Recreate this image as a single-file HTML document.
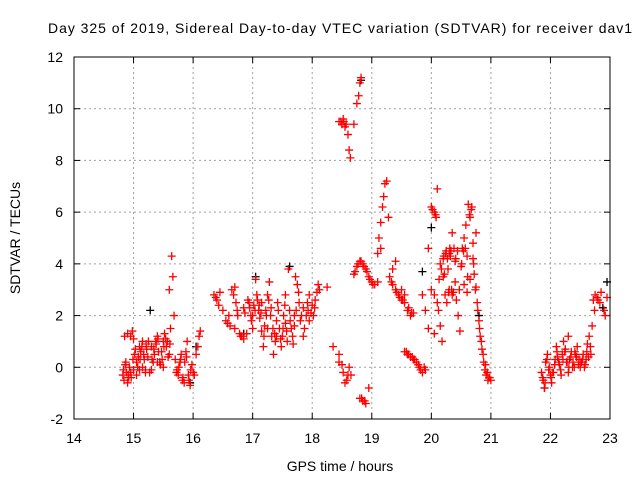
<!DOCTYPE html>
<html><head><meta charset="utf-8"><style>
html,body{margin:0;padding:0;background:#fff;}
svg{display:block;font-family:"Liberation Sans",sans-serif;}
</style></head><body>
<svg id="chart" width="640" height="480" viewBox="0 0 640 480" xmlns="http://www.w3.org/2000/svg">
<rect width="640" height="480" fill="#fff"/>
<text x="340" y="33" font-size="14" text-anchor="middle" textLength="584" fill="#000">Day 325 of 2019, Sidereal Day-to-day VTEC variation (SDTVAR) for receiver dav1</text>
<g id="grid"></g>
<g id="ticks"></g>
<g id="marks"></g>
<rect x="74" y="57" width="536" height="362" fill="none" stroke="#000" stroke-width="1"/>
<text x="340" y="471" font-size="14" text-anchor="middle">GPS time / hours</text>
<text transform="translate(20,238) rotate(-90)" font-size="14" text-anchor="middle">SDTVAR / TECUs</text>
</svg>
<script>
const xTicks=[14,15,16,17,18,19,20,21,22,23];
const yTicks=[-2,0,2,4,6,8,10,12];
const redX=[14.82,14.84,14.86,14.88,14.9,14.92,14.85,14.9,14.95,14.98,15.0,15.02,15.05,15.0,15.05,15.08,15.1,15.12,15.15,15.18,15.2,15.22,15.25,15.3,15.33,15.35,15.38,15.4,15.42,15.45,15.48,15.5,15.52,15.55,15.58,15.6,15.62,15.64,15.66,15.68,15.7,15.72,15.75,15.78,15.8,15.82,15.85,15.88,15.9,15.92,15.95,15.98,16.0,16.02,16.05,16.08,16.1,16.12,15.15,15.2,15.3,15.4,15.6,15.5,14.95,15.1,
14.83,14.87,14.91,14.93,14.96,14.99,15.03,15.07,15.11,15.14,15.17,15.21,15.24,15.27,15.31,15.34,15.37,15.41,15.44,15.47,15.51,15.54,15.57,15.61,15.73,15.76,15.79,15.83,15.86,15.89,15.93,15.96,
16.35,16.4,16.45,16.5,16.55,16.6,16.62,16.65,16.7,16.72,16.75,16.78,16.8,16.85,16.9,16.92,16.95,16.98,17.0,17.02,17.05,17.08,17.1,17.12,17.15,17.18,17.2,17.22,17.25,17.28,17.3,17.32,17.35,17.38,17.4,17.42,17.45,17.48,17.5,17.52,17.55,17.58,17.6,17.62,17.65,17.68,17.7,17.72,17.75,17.78,17.8,17.85,17.9,17.92,17.95,18.0,18.02,18.05,18.08,18.1,18.12,16.85,17.0,17.15,17.25,17.4,17.55,17.7,17.85,16.7,17.95,
16.38,16.43,16.58,16.68,16.74,16.82,16.87,16.94,16.97,17.04,17.07,17.11,17.14,17.19,17.23,17.27,17.31,17.34,17.37,17.43,17.47,17.51,17.54,17.57,17.63,17.67,17.73,17.77,17.82,17.87,17.93,17.98,18.04,
18.45,18.5,18.52,18.55,18.6,18.62,18.64,18.7,18.75,18.78,18.8,18.82,18.45,18.5,18.52,18.55,18.6,18.62,18.65,18.35,18.45,18.25,18.8,18.85,18.9,18.95,18.88,18.48,18.53,18.57,18.58,18.83,
18.7,18.75,18.8,18.85,18.9,18.95,19.0,19.05,19.1,19.1,19.12,19.15,19.18,19.2,19.22,19.25,19.28,19.15,18.72,18.77,18.82,18.87,18.92,18.97,19.02,
19.3,19.35,19.4,19.45,19.5,19.55,19.6,19.65,19.7,19.35,19.4,19.5,19.55,19.55,19.6,19.65,19.7,19.75,19.8,19.85,19.9,19.33,19.42,19.47,19.52,19.62,19.67,19.58,19.62,19.68,19.72,19.78,19.82,19.88,
20.0,20.05,20.08,19.95,20.0,20.05,20.1,20.12,20.15,20.18,19.85,19.9,19.95,20.05,20.1,20.15,20.2,20.22,20.25,20.28,20.3,20.35,20.38,20.4,20.42,20.45,20.48,20.5,20.52,20.55,20.58,20.6,20.62,20.65,20.68,20.7,20.72,20.75,20.78,20.8,20.82,20.85,20.88,20.9,20.92,20.95,20.98,20.75,20.65,20.35,20.2,20.3,20.4,20.55,20.6,20.7,
20.02,20.07,20.13,20.17,20.21,20.24,20.27,20.32,20.34,20.37,20.41,20.44,20.47,20.51,20.54,20.57,20.61,20.64,20.67,20.71,20.74,20.77,20.81,20.84,20.87,20.91,20.94,20.97,21.0,20.23,20.26,20.29,20.31,20.33,
21.85,21.88,21.9,21.92,21.95,21.98,22.0,22.02,22.05,22.08,22.1,22.12,22.15,22.18,22.2,22.22,22.25,22.28,22.3,22.32,22.35,22.38,22.4,22.42,22.45,22.48,22.5,22.52,22.55,22.58,22.6,22.62,22.65,22.68,22.7,22.72,22.75,22.8,22.85,22.9,22.92,22.95,22.3,
21.87,21.91,21.94,21.97,22.01,22.04,22.07,22.11,22.14,22.17,22.21,22.24,22.27,22.31,22.34,22.37,22.41,22.44,22.47,22.51,22.54,22.57,22.61,22.64,22.67,22.74,22.78,22.83];
const redY=[-0.3,-0.5,0.1,-0.2,-0.6,-0.4,1.2,1.3,1.2,1.4,1.1,0.5,0.2,-0.1,-0.3,0.4,0.8,0.6,1.0,0.3,-0.1,0.7,1.0,0.8,0.2,0.5,0.9,1.2,0.6,0.1,0.3,1.0,1.3,0.8,0.4,3.0,1.5,4.3,3.5,2.0,0.3,-0.2,-0.3,0.2,0.5,-0.5,-0.6,0.6,1.0,-0.3,-0.7,0.1,-0.2,-0.3,0.5,0.8,1.2,1.4,0.0,-0.2,-0.1,0.2,0.5,0.0,-0.2,-0.1,
-0.1,0.2,-0.3,0.0,-0.4,0.3,0.7,0.0,0.3,0.8,0.5,0.9,0.4,-0.2,0.3,0.7,1.0,1.1,0.2,0.6,0.8,1.1,1.0,0.9,-0.1,0.0,0.3,-0.4,0.2,0.4,-0.5,-0.1,
2.8,2.6,2.9,2.2,1.8,2.0,1.6,3.0,3.1,2.5,2.0,1.3,1.2,1.1,1.3,2.6,2.3,1.8,1.5,2.4,3.4,2.6,2.2,1.9,1.4,0.8,1.6,2.2,2.8,3.3,2.0,1.2,0.5,1.0,1.8,2.5,1.5,0.8,1.2,2.0,2.8,1.0,3.8,2.2,1.5,0.9,1.6,3.5,3.2,2.5,1.8,1.2,2.0,2.5,1.8,2.4,2.0,2.6,2.9,3.2,3.0,2.3,2.0,2.5,1.5,1.2,1.7,2.0,2.3,1.5,2.8,
2.7,2.4,1.7,2.8,2.2,1.2,2.1,2.5,2.0,2.2,2.8,2.4,2.1,1.2,2.0,2.6,2.3,1.5,1.3,2.2,1.1,1.5,2.4,1.4,1.8,1.2,2.2,2.9,2.0,1.5,2.2,2.1,2.3,
9.5,9.4,9.6,9.3,9.0,8.4,8.1,9.4,10.2,10.5,11.0,11.2,0.5,0.1,-0.2,-0.6,-0.3,0.0,-0.3,0.8,0.2,3.1,-1.2,-1.3,-1.4,-0.8,-1.3,9.5,9.5,9.4,-0.5,-1.2,
3.6,3.9,4.1,4.0,3.8,3.5,3.3,3.2,3.3,4.4,5.0,5.6,6.2,6.6,7.1,7.2,5.8,4.6,3.7,4.0,4.1,3.9,3.7,3.4,3.2,
3.5,3.2,3.0,2.8,2.6,2.5,2.2,2.0,2.1,3.8,4.1,3.0,2.8,0.6,0.5,0.4,0.3,0.2,0.0,-0.2,-0.1,3.3,2.9,2.7,2.6,2.3,2.1,0.6,0.5,0.4,0.3,0.1,-0.1,0.0,
6.2,6.0,5.8,4.6,3.0,2.8,2.5,2.2,1.6,1.0,2.8,2.2,1.5,1.3,6.9,4.0,3.5,3.6,4.5,3.8,4.4,5.2,4.6,3.3,2.6,2.0,1.4,3.9,4.6,5.0,5.5,4.3,6.3,5.8,6.2,4.8,3.6,3.1,2.2,1.8,1.2,0.7,0.2,-0.1,-0.3,-0.5,-0.4,5.2,3.4,2.8,4.2,3.0,4.1,3.2,2.9,4.2,
6.1,5.9,3.4,3.8,4.3,4.4,4.2,4.3,3.0,2.9,4.2,4.5,3.0,4.0,4.5,4.6,3.5,5.9,6.1,4.0,3.0,2.5,1.5,1.0,0.5,0.1,-0.2,-0.4,-0.5,2.8,2.5,2.9,4.6,4.5,
-0.2,-0.5,-0.8,0.2,0.5,0.0,-0.3,-0.6,-0.2,0.3,0.8,0.4,0.1,-0.3,0.5,1.0,0.7,0.2,-0.2,0.3,0.6,0.2,0.0,0.5,0.8,0.3,0.0,0.2,0.5,0.1,0.3,0.9,1.2,0.5,1.6,2.6,2.8,2.6,2.9,2.2,2.0,2.7,1.2,
-0.4,-0.6,0.3,-0.1,-0.4,-0.2,0.1,0.6,0.2,-0.1,0.3,0.6,0.2,0.0,0.4,0.0,0.6,0.4,0.1,0.2,0.3,0.0,0.6,0.4,0.8,2.2,2.7,2.5];
const blackX=[15.28,16.05,15.95,17.05,17.62,16.85,18.82,20.0,20.8,19.85,22.88,22.95,21.9];
const blackY=[2.2,0.8,-0.6,3.5,3.9,1.3,11.1,5.4,2.0,3.7,2.3,3.3,-0.8];

const X0=74,X1=610,Y0=419,Y1=57;
function sx(v){return X0+(v-14)/(23-14)*(X1-X0);}
function sy(v){return Y0-(v+2)/(12+2)*(Y0-Y1);}
const NS='http://www.w3.org/2000/svg';
const grid=document.getElementById('grid'),ticks=document.getElementById('ticks'),marks=document.getElementById('marks');
function mk(tag,attrs,parent){const e=document.createElementNS(NS,tag);for(const k in attrs)e.setAttribute(k,attrs[k]);parent.appendChild(e);return e;}
xTicks.forEach(t=>{
  const x=sx(t);
  if(t>14&&t<23){const g=mk('line',{x1:x,y1:Y1,x2:x,y2:Y0,stroke:'#a0a0a0','stroke-dasharray':'2,3'},grid);
  
  }
  mk('line',{x1:x,y1:Y0,x2:x,y2:Y0-6,stroke:'#000'},ticks);
  mk('line',{x1:x,y1:Y1,x2:x,y2:Y1+6,stroke:'#000'},ticks);
  const l=mk('text',{x:x,y:Y0+24,'font-size':14,'text-anchor':'middle'},ticks);l.textContent=t;
  
  
});
yTicks.forEach(t=>{
  const y=sy(t);
  if(t>-2&&t<12){const g=mk('line',{x1:X0,y1:y,x2:X1,y2:y,stroke:'#a0a0a0','stroke-dasharray':'2,3'},grid);
  
  }
  mk('line',{x1:X0,y1:y,x2:X0+6,y2:y,stroke:'#000'},ticks);
  mk('line',{x1:X1,y1:y,x2:X1-6,y2:y,stroke:'#000'},ticks);
  const l=mk('text',{x:X0-11,y:y+5,'font-size':14,'text-anchor':'end'},ticks);l.textContent=t;
  
  
});
function plus(xs,ys,col,name){
  let d='';
  for(let i=0;i<xs.length;i++){const x=sx(xs[i]),y=sy(ys[i]);d+=`M${x-4},${y}h8M${x},${y-4}v8`;}
  const p=mk('path',{d:d,stroke:col,'stroke-width':1.3,fill:'none'},marks);
  
  
}
plus(blackX,blackY,'#000','black-points');
plus(redX,redY,'#ff0000','red-points');
</script>
</body></html>
